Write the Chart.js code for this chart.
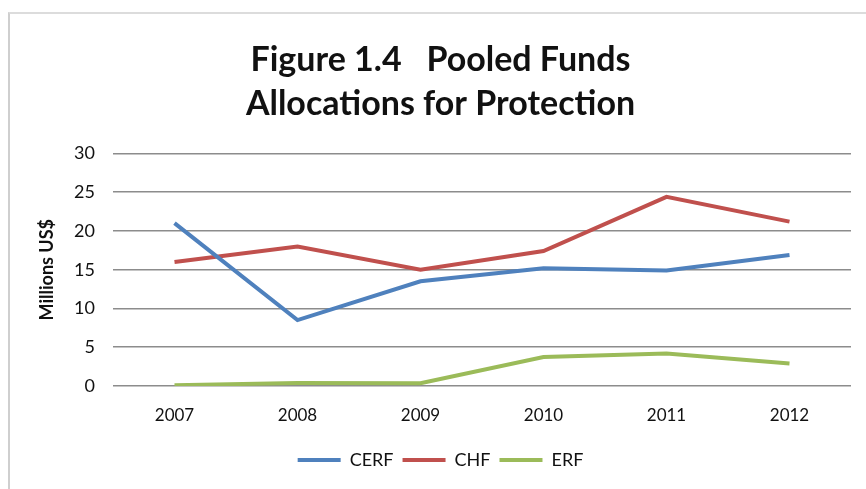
<!DOCTYPE html>
<html>
<head>
<meta charset="utf-8">
<script src="https://cdn.jsdelivr.net/npm/chart.js@4.4.0/dist/chart.umd.min.js"></script>
<style>
  html, body { margin: 0; padding: 0; background: #fff; }
  #wrap { position: relative; width: 866px; height: 489px; overflow: hidden; }
  #frame { position: absolute; left: 8px; top: 12px; width: 900px; height: 520px;
           border-left: 2px solid #cfcfcf; border-top: 2px solid #dcdcdc; box-sizing: border-box; }
  canvas { position: absolute; left: 0; top: 0; }
</style>
</head>
<body>
<div id="wrap">
  <div id="frame"></div>
  <canvas id="c" width="866" height="489"></canvas>
</div>
<script>
const categories = ['2007', '2008', '2009', '2010', '2011', '2012'];
const cerf = [21.0, 8.5, 13.5, 15.2, 14.9, 16.9];
const chf  = [16.0, 18.0, 15.0, 17.4, 24.4, 21.2];
const erf  = [0.1, 0.4, 0.35, 3.75, 4.2, 2.9];
const seriesNames = ['CERF', 'CHF', 'ERF'];
const seriesColors = ['#4F81BD', '#C0504D', '#9BBB59'];
const titleLines = ['Figure 1.4   Pooled Funds', 'Allocations for Protection'];
const yTitle = 'Millions US$';

const FONT = "Lato, 'Open Sans', 'Liberation Sans', sans-serif";
const values = [cerf, chf, erf];

new Chart(document.getElementById('c'), {
  type: 'line',
  data: {
    labels: categories,
    datasets: seriesNames.map((n, i) => ({
      label: n,
      data: values[i],
      borderColor: seriesColors[i],
      backgroundColor: seriesColors[i],
      borderWidth: 4,
      pointRadius: 0,
      tension: 0,
      fill: false
    }))
  },
  options: {
    responsive: false,
    animation: false,
    layout: { padding: { left: 30, right: 15, top: 0, bottom: 10 } },
    plugins: {
      title: {
        display: true,
        text: titleLines,
        color: '#111',
        font: { family: FONT, size: 34, weight: 'bold', lineHeight: 1.3 },
        padding: { top: 38, bottom: 27 }
      },
      legend: {
        position: 'bottom',
        labels: {
          color: '#111',
          font: { family: FONT, size: 18 },
          boxWidth: 43,
          boxHeight: 4,
          padding: 9,
          generateLabels: (chart) => chart.data.datasets.map((ds, i) => ({
            text: ds.label,
            fillStyle: ds.borderColor,
            strokeStyle: ds.borderColor,
            lineWidth: 0,
            hidden: false,
            datasetIndex: i,
            fontColor: '#111'
          }))
        }
      },
      tooltip: { enabled: false }
    },
    scales: {
      x: {
        offset: true,
        afterFit: (s) => { s.height = 56; },
        grid: { display: false, drawTicks: false },
        border: { display: false },
        ticks: { color: '#111', font: { family: FONT, size: 17 }, padding: 19, maxRotation: 0 }
      },
      y: {
        min: 0, max: 30,
        afterFit: (s) => { s.width = 83; },
        grid: { color: '#8c8c8c', lineWidth: 1.5, drawTicks: false },
        border: { display: false },
        ticks: { stepSize: 5, color: '#111', font: { family: FONT, size: 18 }, padding: 18 },
        title: {
          display: true, text: yTitle, color: '#111',
          font: { family: FONT, size: 18, weight: 'bold' }, padding: { top: 6, bottom: 0 }
        }
      }
    }
  }
});
</script>
</body>
</html>
